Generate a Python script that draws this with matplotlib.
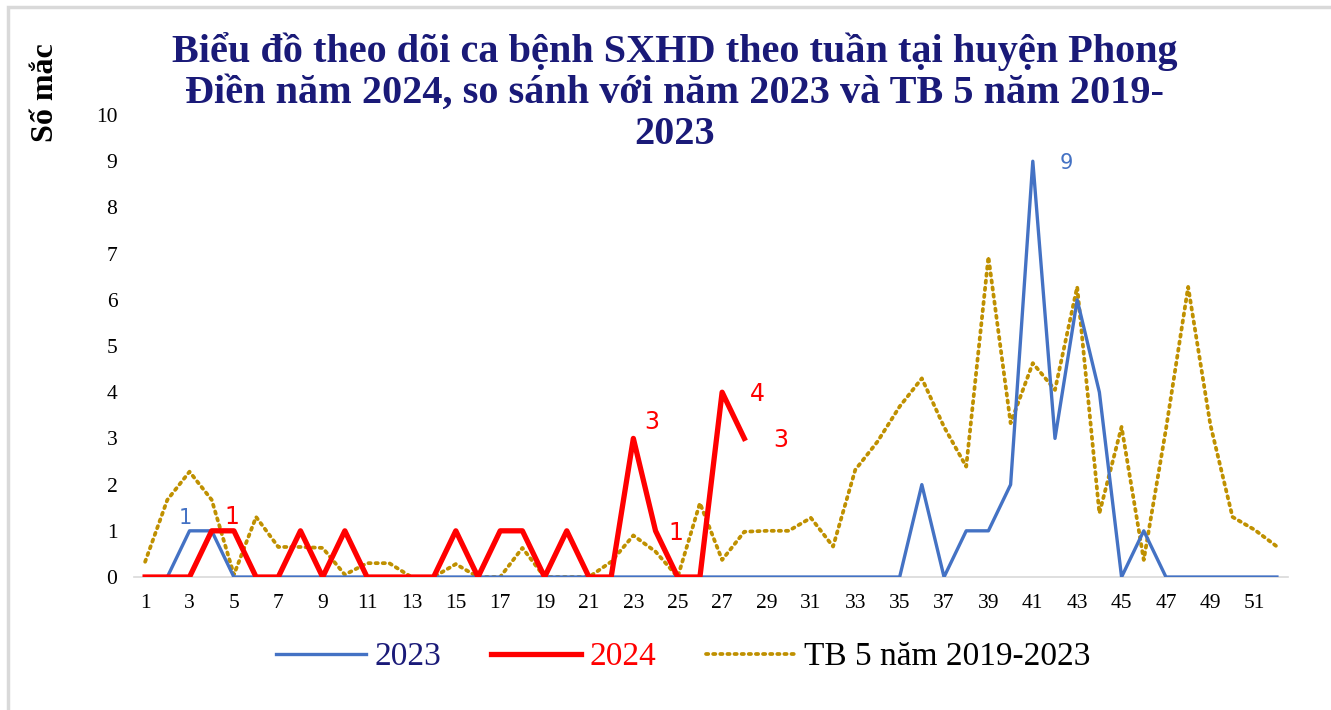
import numpy as np
import matplotlib.pyplot as plt
from matplotlib.patches import Rectangle

weeks = list(range(1, 53))
cases_2023 = [0, 0, 1, 1, 0, 0, 0, 0, 0, 0, 0, 0, 0, 0, 0, 0, 0, 0, 0, 0,
              0, 0, 0, 0, 0, 0, 0, 0, 0, 0, 0, 0, 0, 0, 0, 2, 0, 1, 1, 2,
              9, 3, 6, 4, 0, 1, 0, 0, 0, 0, 0, 0]
weeks_2024 = list(range(1, 29))
cases_2024 = [0, 0, 0, 1, 1, 0, 0, 1, 0, 1, 0, 0, 0, 0, 1, 0, 1, 1, 0, 1,
              0, 0, 3, 1, 0, 0, 4, 3]
avg_5y = [0.33, 1.67, 2.28, 1.67, 0.05, 1.3, 0.65, 0.65, 0.63, 0.05,
          0.3, 0.3, 0.0, 0.0, 0.28, 0.0, 0.0, 0.63, 0.0, 0.0,
          0.0, 0.33, 0.9, 0.55, 0.0, 1.6, 0.37, 0.98, 1.0, 1.0,
          1.28, 0.66, 2.32, 2.93, 3.69, 4.3, 3.25, 2.39, 6.93, 3.33,
          4.63, 4.05, 6.28, 1.38, 3.25, 0.37, 3.2, 6.28, 3.3, 1.3,
          1.02, 0.66]

title = ("Biểu đồ theo dõi ca bệnh SXHD theo tuần tại huyện Phong\n"
         "Điền năm 2024, so sánh với năm 2023 và TB 5 năm 2019-\n2023")

blue = "#4472C4"
red = "#FF0000"
gold = "#BF9000"
navy = "#1A1A78"
serif = "Liberation Serif"

fig = plt.figure(figsize=(13.31, 7.1), dpi=100)
fig.patches.append(Rectangle((0.006, -0.01), 1.0, 1.0, transform=fig.transFigure,
                             fill=False, edgecolor="#D9D9D9", linewidth=2.5))
ax = fig.add_axes([0.1007, 0.1873, 0.867, 0.6507])

ax.plot(weeks, cases_2023, color=blue, lw=2.4, label="2023", zorder=3)
ax.plot(weeks_2024, cases_2024, color=red, lw=3.8, label="2024", zorder=4)
ax.plot(weeks, avg_5y, color=gold, lw=2.7, linestyle=(0, (0.6, 1.3)),
        dash_capstyle="round", label="TB 5 năm 2019-2023", zorder=2)

# nhãn số liệu (độ lệch tính bằng pixel)
px = 0.72
blue_labels = [(3, -4, 13), (41, 34, -2)]
for w, dx, dy in blue_labels:
    ax.annotate(str(cases_2023[w - 1]), (w, cases_2023[w - 1]), xytext=(dx * px, dy * px),
                textcoords="offset points", color=blue, ha="center", va="center",
                fontsize=15, family="DejaVu Sans")
red_labels = [(5, -2, 14), (23, 18, 16), (24, 20, -2), (27, 35, -2), (28, 36, -2)]
for w, dx, dy in red_labels:
    ax.annotate(str(cases_2024[w - 1]), (w, cases_2024[w - 1]), xytext=(dx * px, dy * px),
                textcoords="offset points", color=red, ha="center", va="center",
                fontsize=17, family="DejaVu Sans")

ax.set_xlim(0.5, 52.5)
ax.set_ylim(0, 10)
ax.set_xticks(range(1, 53, 2))
ax.set_yticks(range(0, 11))
for s in ["top", "right", "left"]:
    ax.spines[s].set_visible(False)
ax.spines["bottom"].set_color("#D9D9D9")
ax.spines["bottom"].set_linewidth(1.2)
ax.tick_params(axis="both", length=0, labelsize=15.5)
ax.tick_params(axis="x", pad=12)
ax.tick_params(axis="y", pad=12)
for t in ax.get_xticklabels() + ax.get_yticklabels():
    t.set_family(serif)

fig.text(0.507, 0.955, title, ha="center", va="top", fontsize=29, fontweight="bold",
         color=navy, family=serif, linespacing=1.14)
fig.text(0.034, 0.87, "Số mắc", rotation=90, ha="center", va="center", fontsize=23,
         fontweight="bold", family=serif)

leg = ax.legend(loc="upper center", bbox_to_anchor=(0.476, -0.075), ncol=3, frameon=False,
                prop={"family": serif, "size": 24}, handlelength=2.7, columnspacing=1.5,
                handletextpad=0.25)
for txt, c in zip(leg.get_texts(), [navy, red, "black"]):
    txt.set_color(c)

fig.savefig("out.png", dpi=100)
